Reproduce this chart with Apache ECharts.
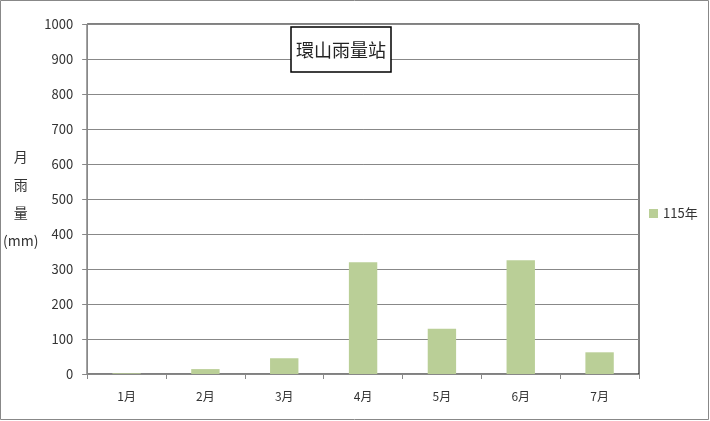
<!DOCTYPE html>
<html>
<head>
<meta charset="utf-8">
<script src="https://cdn.jsdelivr.net/npm/echarts@6/dist/echarts.min.js"></script>
<style>
  html, body { margin: 0; padding: 0; background: #fff; }
  #chart { width: 710px; height: 421px; }
</style>
</head>
<body>
<div id="chart"></div>
<script>
const chartDom = document.getElementById('chart');
const myChart = echarts.init(chartDom);

// data
const months = ['1月', '2月', '3月', '4月', '5月', '6月', '7月'];
const rain115 = [2, 14, 45, 319, 129, 325, 62];
const seriesName = '115年';
const yTicksMax = 1000;

const fontFam = '"Noto Sans CJK TC", "Noto Sans", sans-serif';

const option = {
    textStyle: { fontFamily: fontFam },
    title: {
        text: '環山雨量站',
        left: 291,
        top: 27,
        padding: [14, 5, 13, 5],
        borderColor: '#000',
        borderWidth: 1.5,
        backgroundColor: '#fff',
        textStyle: { fontSize: 18, fontWeight: 'normal', color: '#222', fontFamily: fontFam }
    },
    legend: {
        orient: 'vertical',
        left: 644,
        top: 202,
        itemWidth: 9,
        itemHeight: 9,
        itemGap: 4,
        textStyle: { fontSize: 13, color: '#333' },
        data: [{ name: seriesName, icon: 'rect' }]
    },
    grid: {
        left: 87,
        right: 71,
        top: 24,
        bottom: 47,
        show: true,
        borderColor: '#000',
        borderWidth: 1
    },
    xAxis: {
        type: 'category',
        data: months,
        axisLine: { lineStyle: { color: '#888' } },
        axisTick: { show: true, length: 5, lineStyle: { color: '#888' } },
        axisLabel: { color: '#333', fontSize: 12, margin: 16 }
    },
    yAxis: {
        type: 'value',
        min: 0,
        max: yTicksMax,
        interval: 100,
        name: '月\n\n雨\n\n量\n\n(mm)',
        nameLocation: 'middle',
        nameRotate: 0,
        nameGap: 50,
        nameTextStyle: { fontSize: 14, color: '#333', lineHeight: 14, align: 'center' },
        axisLine: { show: true, lineStyle: { color: '#888' } },
        axisTick: { show: true, length: 5, lineStyle: { color: '#888' } },
        axisLabel: { color: '#333', fontSize: 13, margin: 14, formatter: function (v) { return String(v); } },
        splitLine: { lineStyle: { color: '#888', width: 1 } }
    },
    graphic: [{
        type: 'rect',
        shape: { x: 0.5, y: 0.5, width: 708, height: 419 },
        style: { fill: 'none', stroke: '#888', lineWidth: 1 },
        silent: true
    }],
    series: [{
        name: seriesName,
        type: 'bar',
        data: rain115,
        barWidth: '36%',
        itemStyle: { color: '#bacf97' }
    }]
};

myChart.setOption(option);
</script>
</body>
</html>
